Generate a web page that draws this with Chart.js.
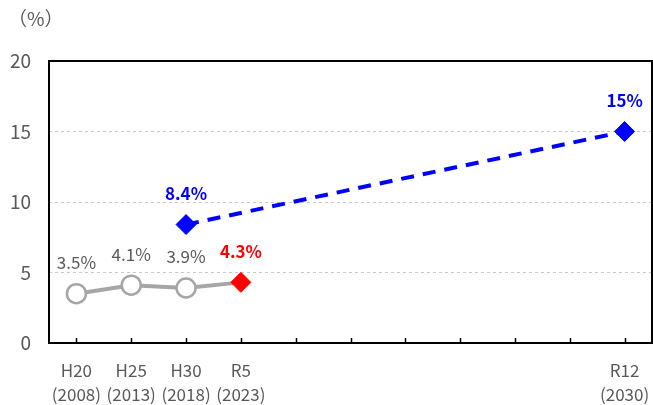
<!DOCTYPE html>
<html>
<head>
<meta charset="utf-8">
<script src="https://cdn.jsdelivr.net/npm/chart.js@4/dist/chart.umd.min.js"></script>
<style>
  html, body { margin: 0; padding: 0; background: #fff; }
  #wrap { width: 653px; height: 405px; position: relative; }
</style>
</head>
<body>
<div id="wrap"><canvas id="chart"></canvas></div>
<script>
// データ
var eraLabels  = ['H20', 'H25', 'H30', 'R5', '', '', '', '', '', '', 'R12'];
var yearLabels = ['(2008)', '(2013)', '(2018)', '(2023)', '', '', '', '', '', '', '(2030)'];
var actualValues = [3.5, 4.1, 3.9, 4.3, null, null, null, null, null, null, null];
var targetValues = [null, null, 8.4, null, null, null, null, null, null, null, 15];
var yTicks = [0, 5, 10, 15, 20];

var FONT = '"Noto Sans CJK JP", "Noto Sans", sans-serif';
var TEXT_GRAY = '#595959';
var LINE_GRAY = '#a6a6a6';

function fmt(v) {
  return (Number.isInteger(v) ? String(v) : v.toFixed(1)) + '%';
}

// 数値ラベル・枠線・目盛り線
var decorPlugin = {
  id: 'decor',
  beforeDatasetsDraw: function(chart) {
    var ctx = chart.ctx, a = chart.chartArea, x = chart.scales.x;
    ctx.save();
    ctx.strokeStyle = '#000';
    ctx.lineWidth = 2;
    ctx.strokeRect(a.left, a.top, a.right - a.left, a.bottom - a.top);
    ctx.beginPath();
    for (var i = 0; i < eraLabels.length; i++) {
      var px = Math.round(x.getPixelForValue(i)) + 0.5;
      ctx.moveTo(px, a.bottom);
      ctx.lineTo(px, a.bottom - 5);
    }
    ctx.lineWidth = 1.5;
    ctx.stroke();
    ctx.restore();
  },
  afterDatasetsDraw: function(chart) {
    var ctx = chart.ctx;
    ctx.save();
    ctx.textAlign = 'center';
    ctx.textBaseline = 'middle';
    chart.data.datasets.forEach(function(ds, di) {
      var meta = chart.getDatasetMeta(di);
      ds.data.forEach(function(v, i) {
        if (v === null) return;
        var p = meta.data[i];
        var color = ds.labelColors[i];
        ctx.fillStyle = color;
        ctx.font = (color === TEXT_GRAY ? '' : 'bold ') + '17px ' + FONT;
        ctx.fillText(fmt(v), p.x, p.y - 31);
      });
    });
    ctx.fillStyle = TEXT_GRAY;
    ctx.font = '19px ' + FONT;
    ctx.textAlign = 'left';
    ctx.fillText('（%）', 8, 19);
    ctx.restore();
  }
};

new Chart(document.getElementById('chart'), {
  type: 'line',
  data: {
    labels: eraLabels.map(function(e, i) { return [e, yearLabels[i]]; }),
    datasets: [
      {
        data: targetValues,
        spanGaps: true,
        borderColor: '#0000ff',
        borderWidth: 4,
        borderDash: [13, 9],
        pointStyle: 'rectRot',
        pointRadius: 10,
        pointBackgroundColor: '#0000ff',
        pointBorderColor: '#0000ff',
        pointBorderWidth: 1,
        labelColors: targetValues.map(function() { return '#0000ff'; }),
        order: 2
      },
      {
        data: actualValues,
        borderColor: LINE_GRAY,
        borderWidth: 4,
        pointStyle: ['circle', 'circle', 'circle', 'rectRot'],
        pointRadius: [9.5, 9.5, 9.5, 10],
        pointBackgroundColor: ['#fff', '#fff', '#fff', '#ff0000'],
        pointBorderColor: [LINE_GRAY, LINE_GRAY, LINE_GRAY, '#ff0000'],
        pointBorderWidth: [2.5, 2.5, 2.5, 1],
        labelColors: [TEXT_GRAY, TEXT_GRAY, TEXT_GRAY, '#ff0000'],
        order: 1
      }
    ]
  },
  options: {
    responsive: true,
    maintainAspectRatio: false,
    animation: false,
    layout: { autoPadding: false, padding: { top: 61, right: 1, left: 0, bottom: 0 } },
    plugins: {
      legend: { display: false },
      tooltip: { enabled: false }
    },
    scales: {
      x: {
        offset: true,
        grid: { display: false, drawTicks: false },
        border: { display: false },
        ticks: {
          color: TEXT_GRAY,
          font: { family: FONT, size: 17, lineHeight: 1.45 },
          padding: 15,
          maxRotation: 0,
          autoSkip: false
        },
        afterFit: function(s) { s.height = 62; s.paddingLeft = 0; s.paddingRight = 0; }
      },
      y: {
        min: 0,
        max: 20,
        afterBuildTicks: function(s) { s.ticks = yTicks.map(function(v) { return { value: v }; }); },
        grid: {
          color: function(c) { return (c.tick.value === 0 || c.tick.value === 20) ? 'rgba(0,0,0,0)' : '#c8c8c8'; },
          lineWidth: 1,
          drawTicks: false
        },
        border: { display: false, dash: [3, 3] },
        ticks: {
          color: TEXT_GRAY,
          font: { family: FONT, size: 19 },
          padding: 18
        },
        afterFit: function(s) { s.width = 49; s.paddingTop = 0; s.paddingBottom = 0; }
      }
    }
  },
  plugins: [decorPlugin]
});
</script>
</body>
</html>
